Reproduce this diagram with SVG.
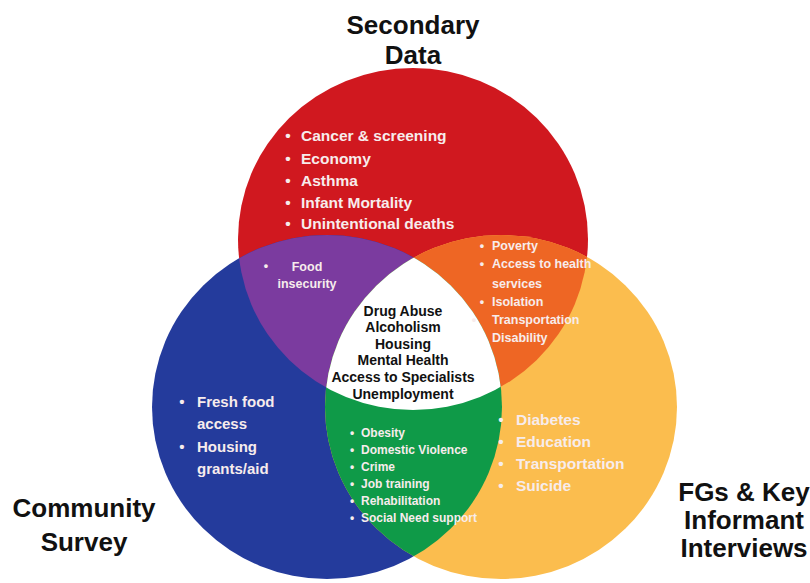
<svg xmlns="http://www.w3.org/2000/svg" width="810" height="583" viewBox="0 0 810 583">
<style>
  text { font-family: "Liberation Sans", Arial, sans-serif; font-weight: bold; }
  .title { font-size: 26px; fill: #111111; text-anchor: middle; }
  .lt { fill: #F7ECEC; }
  .ctr { font-size: 14px; fill: #111111; text-anchor: middle; }
  .b { text-anchor: middle; }
</style>
<defs>
  <ellipse id="cRed" cx="413" cy="239" rx="175" ry="171"/>
  <ellipse id="cBlue" cx="327" cy="407" rx="175" ry="172"/>
  <ellipse id="cYel" cx="501" cy="407" rx="176" ry="172"/>
  <clipPath id="clipRed"><use href="#cRed"/></clipPath>
  <clipPath id="clipBlue"><use href="#cBlue"/></clipPath>
  <clipPath id="clipYel"><use href="#cYel"/></clipPath>
</defs>
<rect width="810" height="583" fill="#FFFFFF"/>

<g id="venn">
  <use href="#cRed" fill="#D0181F"/>
  <use href="#cBlue" fill="#243B9C"/>
  <use href="#cYel" fill="#FBBD4E"/>
  <g clip-path="url(#clipRed)"><use href="#cBlue" fill="#7B3B9F"/></g>
  <g clip-path="url(#clipRed)"><use href="#cYel" fill="#EE6624"/></g>
  <g clip-path="url(#clipBlue)"><use href="#cYel" fill="#0F9A48"/></g>
  <g clip-path="url(#clipRed)"><g clip-path="url(#clipBlue)"><use href="#cYel" fill="#FFFFFF"/></g></g>
</g>

<g id="secondary-data">
  <text class="title" x="413" y="34" font-size="27">Secondary</text>
  <text class="title" x="413" y="64" font-size="27">Data</text>
  <g class="lt" font-size="15.5">
    <text class="b" x="288" y="140.5">•</text><text x="301" y="140.5">Cancer &amp; screening</text>
    <text class="b" x="288" y="163.5">•</text><text x="301" y="163.5">Economy</text>
    <text class="b" x="288" y="185.5">•</text><text x="301" y="185.5">Asthma</text>
    <text class="b" x="288" y="207.5">•</text><text x="301" y="207.5">Infant Mortality</text>
    <text class="b" x="288" y="228.5">•</text><text x="301" y="228.5">Unintentional deaths</text>
  </g>
</g>

<g id="community-survey">
  <text class="title" x="84" y="517">Community</text>
  <text class="title" x="84" y="551">Survey</text>
  <g class="lt" font-size="15">
    <text class="b" x="182" y="406.5">•</text><text x="197" y="406.5">Fresh food</text>
    <text x="197" y="428.5">access</text>
    <text class="b" x="182" y="451.5">•</text><text x="197" y="451.5">Housing</text>
    <text x="197" y="473.5">grants/aid</text>
  </g>
</g>

<g id="fgs-key-informant">
  <text class="title" x="744" y="501">FGs &amp; Key</text>
  <text class="title" x="744" y="529">Informant</text>
  <text class="title" x="744" y="557">Interviews</text>
  <g class="lt" font-size="15.5">
    <text class="b" x="501" y="424.5">•</text><text x="516" y="424.5">Diabetes</text>
    <text class="b" x="501" y="446.5">•</text><text x="516" y="446.5">Education</text>
    <text class="b" x="501" y="468.5">•</text><text x="516" y="468.5">Transportation</text>
    <text class="b" x="501" y="490.5">•</text><text x="516" y="490.5">Suicide</text>
  </g>
</g>

<g id="secondary-community">
  <g class="lt" font-size="12.5">
    <text class="b" x="266" y="270">•</text>
    <text x="307" y="270.5" text-anchor="middle">Food</text>
    <text x="307" y="287.5" text-anchor="middle">insecurity</text>
  </g>
</g>

<g id="secondary-fgs">
  <g class="lt" font-size="12.5">
    <text class="b" x="482" y="249.5">•</text><text x="492" y="249.5">Poverty</text>
    <text class="b" x="482" y="267.5">•</text><text x="492" y="267.5">Access to health</text>
    <text x="492" y="287.5">services</text>
    <text class="b" x="482" y="305.5">•</text><text x="492" y="305.5">Isolation</text>
    <text class="b" x="474" y="323.5">•</text><text x="492" y="323.5">Transportation</text>
    <text x="492" y="341.5">Disability</text>
  </g>
</g>

<g id="community-fgs">
  <g class="lt" font-size="12">
    <text class="b" x="352" y="437">•</text><text x="361" y="437">Obesity</text>
    <text class="b" x="352" y="454">•</text><text x="361" y="454">Domestic Violence</text>
    <text class="b" x="352" y="471">•</text><text x="361" y="471">Crime</text>
    <text class="b" x="352" y="488">•</text><text x="361" y="488">Job training</text>
    <text class="b" x="352" y="505">•</text><text x="361" y="505">Rehabilitation</text>
    <text class="b" x="352" y="522">•</text><text x="361" y="522">Social Need support</text>
  </g>
</g>

<g id="all-three">
  <text class="ctr" x="403" y="316">Drug Abuse</text>
  <text class="ctr" x="403" y="332">Alcoholism</text>
  <text class="ctr" x="403" y="349">Housing</text>
  <text class="ctr" x="403" y="365">Mental Health</text>
  <text class="ctr" x="403" y="382">Access to Specialists</text>
  <text class="ctr" x="403" y="399">Unemployment</text>
</g>
</svg>
